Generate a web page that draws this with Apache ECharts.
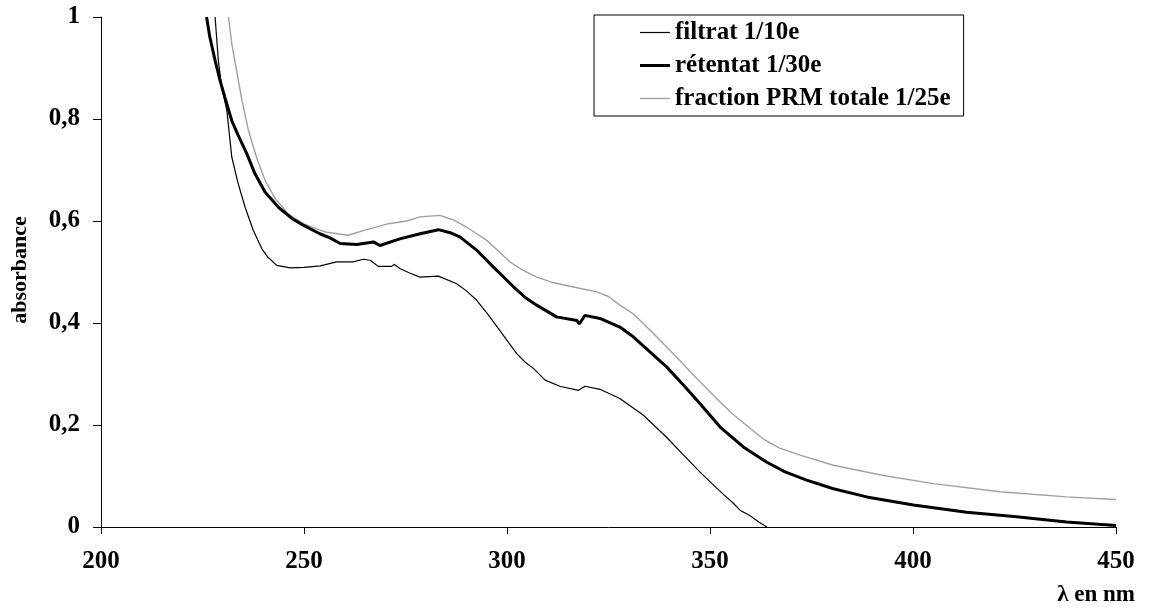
<!DOCTYPE html>
<html>
<head>
<meta charset="utf-8">
<script src="https://cdn.jsdelivr.net/npm/echarts@6/dist/echarts.min.js"></script>
<style>
  html, body { margin: 0; padding: 0; background: #fff; }
  #chart { width: 1149px; height: 608px; }
</style>
</head>
<body>
<div id="chart"></div>
<script>
// wavelengths (nm) and absorbances
const filtratNm = [228.1, 228.9, 229.7, 231.0, 232.2, 233.8, 235.5, 237.5, 239.6, 241.0, 243.3, 246.6, 250.0, 254.0, 258.0, 262.1, 264.6, 266.3, 268.3, 271.6, 272.2, 273.6, 276.0, 278.6, 283.1, 287.6, 290.0, 292.5, 295.2, 297.9, 300.0, 302.4, 304.5, 306.5, 309.4, 313.0, 317.6, 319.2, 322.9, 327.8, 333.6, 339.3, 343.5, 347.5, 350.5, 353.3, 355.7, 357.4, 359.9, 362.0, 364.0]
const filtratAbs = [1.0, 0.915, 0.863, 0.817, 0.726, 0.673, 0.627, 0.582, 0.546, 0.530, 0.513, 0.508, 0.509, 0.512, 0.520, 0.520, 0.525, 0.523, 0.511, 0.511, 0.515, 0.507, 0.498, 0.490, 0.492, 0.477, 0.463, 0.445, 0.418, 0.389, 0.366, 0.340, 0.323, 0.311, 0.288, 0.276, 0.268, 0.276, 0.270, 0.252, 0.219, 0.176, 0.141, 0.108, 0.085, 0.064, 0.047, 0.033, 0.022, 0.010, 0.0]

const retentatNm = [226.0, 226.8, 228.1, 229.3, 230.5, 232.2, 233.8, 235.9, 237.9, 240.4, 243.7, 247.0, 249.8, 253.9, 256.4, 258.9, 263.0, 267.1, 268.7, 273.6, 278.6, 283.1, 286.0, 288.4, 292.5, 296.6, 301.6, 304.5, 307.3, 312.2, 317.2, 317.8, 319.2, 322.9, 327.8, 331.1, 335.0, 339.3, 343.5, 347.5, 352.5, 358.2, 364.0, 368.5, 373.8, 380.4, 388.6, 400.1, 413.2, 425.5, 437.8, 450.0]
const retentatAbs = [1.0, 0.961, 0.915, 0.876, 0.843, 0.797, 0.768, 0.732, 0.693, 0.657, 0.627, 0.605, 0.592, 0.575, 0.567, 0.556, 0.554, 0.559, 0.552, 0.565, 0.575, 0.583, 0.577, 0.569, 0.543, 0.510, 0.471, 0.450, 0.435, 0.412, 0.405, 0.398, 0.415, 0.409, 0.392, 0.373, 0.345, 0.314, 0.278, 0.242, 0.196, 0.157, 0.127, 0.108, 0.092, 0.075, 0.059, 0.043, 0.029, 0.020, 0.010, 0.003]

const fractionNm = [231.4, 232.2, 233.4, 234.7, 236.3, 238.3, 240.4, 242.9, 246.1, 249.8, 253.9, 255.6, 260.9, 265.4, 270.4, 275.3, 278.6, 283.5, 286.5, 289.2, 292.0, 295.0, 298.0, 300.7, 304.0, 307.3, 311.0, 315.5, 322.1, 325.0, 327.8, 331.1, 336.0, 341.8, 346.5, 351.6, 355.5, 359.9, 363.1, 367.0, 372.2, 380.4, 392.7, 405.0, 421.4, 437.8, 450.0]
const fractionAbs = [1.0, 0.948, 0.895, 0.837, 0.778, 0.725, 0.680, 0.644, 0.614, 0.595, 0.582, 0.578, 0.572, 0.583, 0.594, 0.600, 0.608, 0.611, 0.603, 0.592, 0.578, 0.562, 0.540, 0.520, 0.503, 0.490, 0.480, 0.472, 0.461, 0.452, 0.435, 0.418, 0.380, 0.333, 0.293, 0.252, 0.222, 0.193, 0.173, 0.155, 0.141, 0.121, 0.101, 0.085, 0.069, 0.059, 0.054]

const seriesNames = ['filtrat 1/10e', 'rétentat 1/30e', 'fraction PRM totale 1/25e']

const pairs = (xs, ys) => xs.map((x, i) => [x, ys[i]])
const serif = '"Liberation Serif", "DejaVu Serif", serif'

const chart = echarts.init(document.getElementById('chart'))
const option = {
  backgroundColor: '#fff',
  animation: false,
  grid: { left: 101, right: 33, top: 17, bottom: 81 },
  legend: {
    orient: 'vertical',
    left: 594,
    top: 15,
    padding: [5, 13, 5, 46],
    itemGap: 8,
    itemWidth: 30,
    itemHeight: 14,
    symbolKeepAspect: true,
    borderColor: '#000',
    borderWidth: 1,
    backgroundColor: '#fff',
    textStyle: { fontFamily: serif, fontWeight: 'bold', fontSize: 25, color: '#000' },
    data: [
      { name: seriesNames[0], icon: 'path://M0,0H30V1.2H0Z' },
      { name: seriesNames[1], icon: 'path://M0,0H30V3H0Z' },
      { name: seriesNames[2], icon: 'path://M0,0H30V1.4H0Z' }
    ]
  },
  xAxis: {
    type: 'value',
    min: 200,
    max: 450,
    interval: 50,
    axisLine: { onZero: false, lineStyle: { color: '#000', width: 1 } },
    axisTick: { show: true, length: 7, lineStyle: { color: '#000' } },
    splitLine: { show: false },
    axisLabel: { fontFamily: serif, fontWeight: 'bold', fontSize: 25, color: '#000', margin: 22 }
  },
  yAxis: {
    type: 'value',
    min: 0,
    max: 1,
    interval: 0.2,
    axisLine: { show: true, lineStyle: { color: '#000', width: 1 } },
    axisTick: { show: true, length: 8, lineStyle: { color: '#000' } },
    splitLine: { show: false },
    axisLabel: {
      fontFamily: serif, fontWeight: 'bold', fontSize: 25, color: '#000', margin: 21,
      formatter: v => String(Math.round(v * 10) / 10).replace('.', ',')
    }
  },
  graphic: [
    {
      type: 'text',
      x: 20,
      y: 270,
      rotation: Math.PI / 2,
      style: {
        text: 'absorbance', fill: '#000', font: 'bold 22px ' + serif,
        align: 'center', verticalAlign: 'middle'
      }
    },
    {
      type: 'text',
      x: 1096,
      y: 595,
      style: {
        text: 'λ en nm', fill: '#000', font: 'bold 23px ' + serif,
        align: 'center', verticalAlign: 'middle'
      }
    }
  ],
  series: [
    {
      name: seriesNames[0],
      type: 'line',
      symbol: 'none',
      z: 3,
      lineStyle: { color: '#000', width: 1.2 },
      itemStyle: { color: '#000' },
      data: pairs(filtratNm, filtratAbs)
    },
    {
      name: seriesNames[1],
      type: 'line',
      symbol: 'none',
      z: 4,
      lineStyle: { color: '#000', width: 3 },
      itemStyle: { color: '#000' },
      data: pairs(retentatNm, retentatAbs)
    },
    {
      name: seriesNames[2],
      type: 'line',
      symbol: 'none',
      z: 2,
      lineStyle: { color: '#a0a0a0', width: 1.4 },
      itemStyle: { color: '#a0a0a0' },
      data: pairs(fractionNm, fractionAbs)
    }
  ]
}
chart.setOption(option)
</script>
</body>
</html>
